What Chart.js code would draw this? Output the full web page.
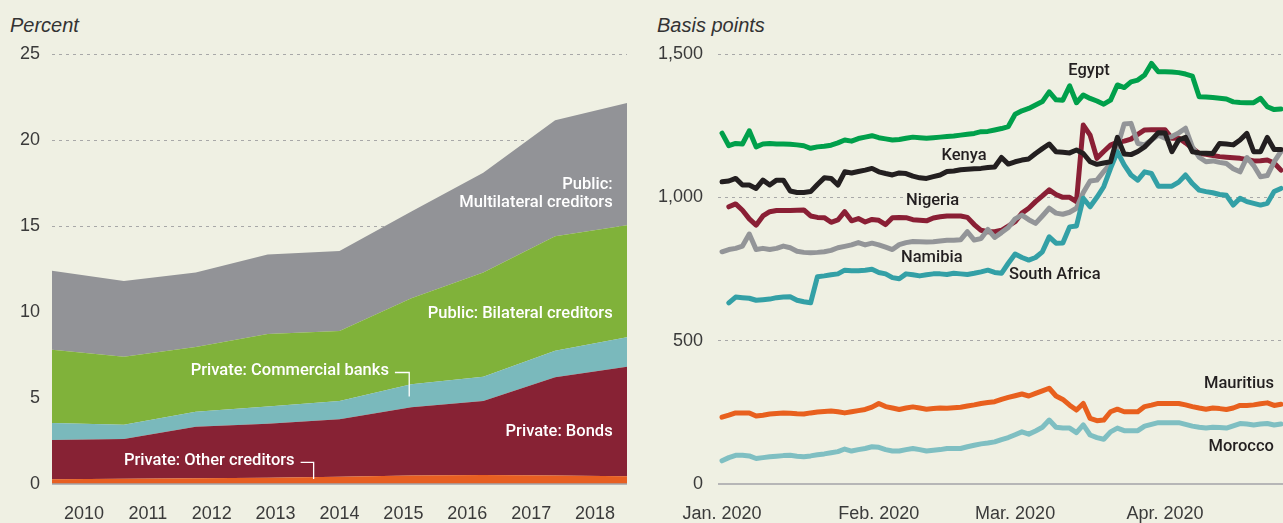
<!DOCTYPE html>
<html>
<head>
<meta charset="utf-8">
<script src="https://cdn.jsdelivr.net/npm/chart.js@4/dist/chart.umd.min.js"></script>
<style>
  html, body { margin: 0; padding: 0; background: #eff0e3; }
  body { width: 1283px; height: 523px; position: relative; overflow: hidden; font-family: 'Liberation Sans', Arial, sans-serif; }
  .unit { position: absolute; top: 15px; font-size: 20px; line-height: 20px; font-style: italic; color: #333; }
  canvas { position: absolute; top: 0; }
  #debtChart { left: 0; }
  #spreadChart { left: 640px; }
</style>
</head>
<body>
<div class="unit" style="left:10px">Percent</div>
<div class="unit" style="left:657px">Basis points</div>
<canvas id="debtChart" width="640" height="523"></canvas>
<canvas id="spreadChart" width="643" height="523"></canvas>
<script>
// ---- left panel: public debt by creditor, percent of GDP ----
const years = ['2010', '2011', '2012', '2013', '2014', '2015', '2016', '2017', '2018'];
const otherCreditors  = [0.28, 0.30, 0.33, 0.37, 0.42, 0.50, 0.52, 0.50, 0.45];
const bonds           = [2.28, 2.32, 3.00, 3.13, 3.34, 3.96, 4.31, 5.70, 6.37];
const commercialBanks = [0.99, 0.83, 0.87, 1.00, 1.07, 1.34, 1.41, 1.55, 1.71];
const bilateral       = [4.25, 3.95, 3.77, 4.22, 4.07, 5.00, 6.06, 6.65, 6.52];
const multilateral    = [4.60, 4.40, 4.33, 4.63, 4.65, 5.05, 5.80, 6.75, 7.10];
const percentTicks = [0, 5, 10, 15, 20, 25];

// ---- right panel: sovereign spreads, basis points (business days) ----
const monthLabels = ['Jan. 2020', 'Feb. 2020', 'Mar. 2020', 'Apr. 2020'];
const monthStart = [0, 23, 43, 65];
const bpTicks = [0, 500, 1000, 1500];

const egypt = [1224,1180,1188,1186,1232,1176,1186,1188,1186,1186,
  1185,1183,1180,1171,1176,1178,1182,1190,1200,1196,
  1205,1210,1215,1208,1204,1200,1202,1206,1210,1208,
  1206,1208,1210,1212,1214,1217,1220,1223,1229,1230,
  1235,1240,1247,1290,1302,1310,1322,1334,1368,1340,
  1339,1389,1330,1357,1345,1336,1325,1339,1392,1383,
  1403,1409,1427,1467,1438,1438,1437,1435,1430,1423,
  1351,1350,1348,1346,1343,1333,1331,1330,1330,1345,
  1316,1306,1308];
const kenya = [1054,1057,1066,1043,1043,1031,1060,1043,1060,1060,
  1022,1017,1017,1020,1045,1068,1066,1043,1089,1085,
  1090,1095,1101,1089,1083,1078,1085,1083,1074,1068,
  1066,1072,1078,1090,1092,1096,1098,1100,1101,1104,
  1106,1139,1116,1124,1130,1134,1153,1170,1186,1159,
  1157,1155,1165,1153,1124,1115,1120,1124,1209,1151,
  1149,1160,1176,1200,1225,1224,1159,1200,1209,1159,
  1155,1154,1153,1188,1186,1183,1200,1223,1159,1159,
  1209,1167,1167];
const nigeria = [null,967,977,955,925,903,935,950,954,954,
  954,955,956,935,930,929,913,921,950,918,
  926,914,923,920,905,929,930,929,922,920,
  918,928,932,935,935,935,930,905,885,880,
  880,885,900,915,945,962,985,1005,1026,1010,
  1000,1000,985,1252,1217,1136,1160,1182,1192,1196,
  1203,1220,1235,1236,1236,1236,1206,1207,1190,1171,
  1153,1150,1146,1142,1140,1138,1136,1132,1127,1128,
  1130,1120,1095];
const namibia = [810,818,822,830,872,818,822,818,822,830,
  824,812,808,807,808,810,815,824,829,834,
  842,834,840,834,826,818,835,842,846,845,
  844,845,848,850,850,852,880,851,856,888,
  860,877,895,925,938,922,909,935,962,945,
  941,948,962,1017,1057,1060,1090,1118,1176,1256,
  1258,1188,1183,1200,1217,1206,1212,1225,1241,1176,
  1140,1124,1127,1122,1118,1100,1089,1139,1111,1072,
  1076,1124,1160];
const southAfrica = [null,632,652,650,648,641,643,645,650,652,
  653,641,636,632,723,726,730,733,746,744,
  744,746,749,738,733,720,716,733,730,726,
  730,733,733,731,735,733,731,735,740,746,
  738,735,770,802,790,781,790,810,862,840,
  841,897,900,997,967,1000,1037,1101,1159,1113,
  1078,1060,1089,1083,1039,1039,1039,1053,1078,1048,
  1025,1020,1016,1010,1007,973,997,985,979,973,
  979,1020,1031];
const mauritius = [233,240,248,248,248,237,240,244,246,248,
  247,245,244,248,251,253,255,252,248,252,
  256,260,268,281,270,265,260,265,269,265,
  261,263,265,264,266,268,272,276,281,284,
  287,295,302,308,314,307,316,325,334,307,
  295,275,258,281,229,221,223,252,261,252,
  252,252,270,275,281,281,281,281,276,270,
  265,261,265,263,260,265,274,274,276,280,
  283,274,278];
const morocco = [81,92,100,100,98,89,92,95,97,99,
  100,97,95,98,102,105,109,113,122,115,
  120,124,130,128,120,115,115,120,124,120,
  115,118,120,124,124,124,130,135,140,143,
  147,155,162,172,182,174,185,198,223,198,
  195,195,179,206,171,162,156,182,195,186,
  186,186,202,208,214,214,214,214,208,202,
  198,195,198,197,195,203,211,209,206,209,
  211,206,209];

// annotation anchors, in data units
const areaLabels = [
  { text: 'Public:', x: 2017.8, y: 17.39, align: 'right' },
  { text: 'Multilateral creditors', x: 2017.8, y: 16.35, align: 'right' },
  { text: 'Public: Bilateral creditors', x: 2017.8, y: 9.9, align: 'right' },
  { text: 'Private: Commercial banks', x: 2011.93, y: 6.6, align: 'left', leadX: 2014.97, leadY: 5.09 },
  { text: 'Private: Bonds', x: 2017.8, y: 3.04, align: 'right' },
  { text: 'Private: Other creditors', x: 2011.0, y: 1.37, align: 'left', leadX: 2013.64, leadY: 0.29 }
];
const countryLabels = [
  { text: 'Egypt', x: 53.84, y: 1440, align: 'center' },
  { text: 'Kenya', x: 35.5, y: 1146, align: 'center' },
  { text: 'Nigeria', x: 30.88, y: 987, align: 'center' },
  { text: 'Namibia', x: 30.77, y: 790, align: 'center' },
  { text: 'South Africa', x: 42.1, y: 728, align: 'left' },
  { text: 'Mauritius', x: 80.97, y: 348, align: 'right' },
  { text: 'Morocco', x: 80.97, y: 129, align: 'right' }
];

const labelFont = '500 16.5px Roboto, "Liberation Sans", Arial, sans-serif';
const tickColor = '#3a3a3a';
const gridColor = '#a8a8a8';

Chart.defaults.font.family = '"Liberation Sans", Arial, sans-serif';
Chart.defaults.color = tickColor;
Chart.defaults.animation = false;

// solid zero line on top of the dashed grid
const zeroLine = {
  id: 'zeroLine',
  afterDatasetsDraw(chart) {
    const { ctx, chartArea, scales } = chart;
    const y0 = scales.y.getPixelForValue(0);
    ctx.save();
    ctx.strokeStyle = '#a3a3a8';
    ctx.lineWidth = 1.5;
    ctx.beginPath();
    ctx.moveTo(chartArea.left, y0);
    ctx.lineTo(chartArea.right, y0);
    ctx.stroke();
    ctx.restore();
  }
};

function textPlugin(items, color) {
  return {
    id: 'textLabels',
    afterDatasetsDraw(chart) {
      const { ctx, scales } = chart;
      ctx.save();
      ctx.font = labelFont;
      ctx.fillStyle = color;
      ctx.strokeStyle = color;
      ctx.lineWidth = 1.3;
      ctx.textBaseline = 'middle';
      items.forEach(item => {
        const px = scales.x.getPixelForValue(item.x);
        const py = scales.y.getPixelForValue(item.y);
        ctx.textAlign = item.align;
        ctx.fillText(item.text, px, py);
        if (item.leadX !== undefined) {
          const start = px + ctx.measureText(item.text).width + 6;
          const lx = scales.x.getPixelForValue(item.leadX);
          const ly = scales.y.getPixelForValue(item.leadY);
          ctx.beginPath();
          ctx.moveTo(start, py + 2);
          ctx.lineTo(lx, py + 2);
          ctx.lineTo(lx, ly);
          ctx.stroke();
        }
      });
      ctx.restore();
    }
  };
}

const gridOpts = {
  color: ctx => (ctx.tick && ctx.tick.value === 0) ? 'rgba(0,0,0,0)' : gridColor,
  lineWidth: 1,
  drawTicks: false,
  borderDash: [3, 4]
};

// ---- left chart ----
function areaSet(label, values, color, fill) {
  return {
    label: label,
    data: values,
    backgroundColor: color,
    borderColor: 'rgba(0,0,0,0)',
    borderWidth: 0,
    pointRadius: 0,
    tension: 0,
    fill: fill
  };
}

new Chart(document.getElementById('debtChart'), {
  type: 'line',
  data: {
    labels: years,
    datasets: [
      areaSet('Private: Other creditors', otherCreditors, '#e75f22', 'origin'),
      areaSet('Private: Bonds', bonds, '#872234', '-1'),
      areaSet('Private: Commercial banks', commercialBanks, '#7ab9bc', '-1'),
      areaSet('Public: Bilateral creditors', bilateral, '#80b23a', '-1'),
      areaSet('Public: Multilateral creditors', multilateral, '#929397', '-1')
    ]
  },
  options: {
    responsive: false,
    devicePixelRatio: 1,
    layout: { padding: { top: 54, right: 13, bottom: 0, left: 0 } },
    plugins: { legend: { display: false }, tooltip: { enabled: false } },
    scales: {
      x: { type: 'linear', display: false, min: 2010, max: 2018 },
      years: {
        type: 'category',
        position: 'bottom',
        offset: true,
        grid: { display: false },
        border: { display: false },
        ticks: {
          font: { family: '"Liberation Sans Narrow", "Liberation Sans", sans-serif', size: 18 },
          padding: 11,
          maxRotation: 0,
          autoSkip: false
        },
        afterFit(scale) { scale.height = 39; }
      },
      y: {
        stacked: true,
        min: percentTicks[0],
        max: percentTicks[percentTicks.length - 1],
        grid: gridOpts,
        border: { display: false, dash: [3, 4] },
        ticks: { stepSize: percentTicks[1] - percentTicks[0], font: { size: 18 }, padding: 12 },
        afterFit(scale) { scale.width = 52; }
      }
    }
  },
  plugins: [zeroLine, textPlugin(areaLabels, '#ffffff')]
});

// ---- right chart ----
function lineSet(label, values, color) {
  return {
    label: label,
    data: values,
    borderColor: color,
    backgroundColor: color,
    borderWidth: 5,
    pointRadius: 0,
    tension: 0,
    fill: false,
    borderCapStyle: 'round',
    borderJoinStyle: 'round'
  };
}

new Chart(document.getElementById('spreadChart'), {
  type: 'line',
  data: {
    labels: egypt.map((v, i) => i),
    datasets: [
      lineSet('Kenya', kenya, '#231f20'),
      lineSet('Egypt', egypt, '#00a04b'),
      lineSet('South Africa', southAfrica, '#33a0a6'),
      lineSet('Namibia', namibia, '#939598'),
      lineSet('Nigeria', nigeria, '#8a1f35'),
      lineSet('Mauritius', mauritius, '#e8601e'),
      lineSet('Morocco', morocco, '#7fbfc2')
    ]
  },
  options: {
    responsive: false,
    devicePixelRatio: 1,
    layout: { padding: { top: 54, right: 0, bottom: 0, left: 0 } },
    plugins: { legend: { display: false }, tooltip: { enabled: false } },
    scales: {
      x: {
        type: 'linear',
        min: -0.59,
        max: 82.3,
        grid: { display: false },
        border: { display: false },
        afterBuildTicks(scale) { scale.ticks = monthStart.map(v => ({ value: v })); },
        ticks: {
          callback: (value, index) => monthLabels[index],
          font: { family: '"Liberation Sans Narrow", "Liberation Sans", sans-serif', size: 18 },
          padding: 11,
          maxRotation: 0,
          autoSkip: false
        },
        afterFit(scale) { scale.height = 39; }
      },
      y: {
        min: bpTicks[0],
        max: bpTicks[bpTicks.length - 1],
        grid: gridOpts,
        border: { display: false, dash: [3, 4] },
        ticks: {
          stepSize: bpTicks[1] - bpTicks[0],
          font: { size: 18 },
          padding: 15,
          callback: v => v.toLocaleString('en-US')
        },
        afterFit(scale) { scale.width = 78; }
      }
    }
  },
  plugins: [zeroLine, textPlugin(countryLabels, '#231f20')]
});
</script>
</body>
</html>
